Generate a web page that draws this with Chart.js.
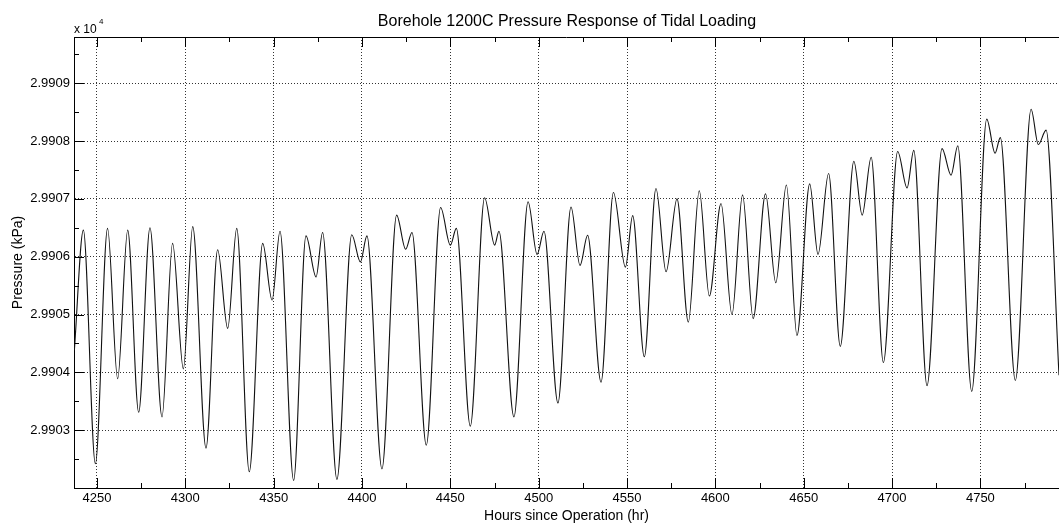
<!DOCTYPE html>
<html>
<head>
<meta charset="utf-8">
<script src="https://cdn.jsdelivr.net/npm/chart.js@4"></script>
<style>
  html, body { margin: 0; padding: 0; background: #fff; }
  #wrap { width: 1059px; height: 525px; position: relative; overflow: hidden; }
  canvas { display: block; }
</style>
</head>
<body>
<div id="wrap"><canvas id="c" width="1059" height="525"></canvas></div>
<script>
// ---- data (hours since operation, pressure in kPa) ----
const hours = [
  4237.2, 4242.3, 4249.1, 4256.0, 4261.7, 4267.4, 4273.6, 4280.0, 4286.8, 4292.8,
  4298.9, 4304.2, 4311.7, 4318.3, 4324.0, 4329.1, 4336.2, 4343.8, 4349.1, 4353.6,
  4361.3, 4368.3, 4374.0, 4377.7, 4385.8, 4394.2, 4399.1, 4402.8, 4411.3, 4419.6,
  4424.7, 4428.3, 4436.4, 4444.5, 4450.0, 4453.4, 4461.3, 4469.4, 4475.1, 4477.5,
  4486.0, 4494.0, 4499.1, 4503.0, 4510.9, 4518.3, 4523.4, 4527.7, 4535.3, 4542.3,
  4549.1, 4553.2, 4559.8, 4566.4, 4572.1, 4578.3, 4584.7, 4590.9, 4596.6, 4603.2,
  4609.4, 4615.4, 4621.4, 4628.4, 4634.2, 4640.2, 4646.2, 4653.4, 4658.1, 4664.1,
  4670.7, 4678.4, 4683.1, 4688.2, 4695.1, 4703.2, 4708.5, 4712.3, 4719.8, 4728.3,
  4733.4, 4737.2, 4745.1, 4753.6, 4758.3, 4761.3, 4769.8, 4778.7, 4782.8, 4787.2,
  4794.5
];
const pressure = [
  29904.38, 29906.46, 29902.42, 29906.49, 29903.89, 29906.46, 29903.31, 29906.50, 29903.23, 29906.23,
  29904.06, 29906.52, 29902.69, 29906.12, 29904.76, 29906.49, 29902.28, 29906.23, 29905.25, 29906.44,
  29902.13, 29906.36, 29905.65, 29906.42, 29902.15, 29906.38, 29905.91, 29906.36, 29902.33, 29906.72,
  29906.13, 29906.42, 29902.74, 29906.85, 29906.20, 29906.49, 29903.07, 29907.02, 29906.20, 29906.44,
  29903.23, 29906.95, 29906.04, 29906.44, 29903.47, 29906.86, 29905.85, 29906.37, 29903.83, 29907.11,
  29905.82, 29906.71, 29904.27, 29907.18, 29905.74, 29907.00, 29904.87, 29907.14, 29905.32, 29906.92,
  29905.00, 29907.07, 29904.93, 29907.09, 29905.55, 29907.24, 29904.64, 29907.26, 29906.04, 29907.44,
  29904.45, 29907.65, 29906.72, 29907.72, 29904.17, 29907.82, 29907.19, 29907.84, 29903.77, 29907.87,
  29907.41, 29907.92, 29903.67, 29908.38, 29907.79, 29908.06, 29903.86, 29908.55, 29907.94, 29908.19,
  29903.95
];
const xTicks = [4250, 4300, 4350, 4400, 4450, 4500, 4550, 4600, 4650, 4700, 4750];
const yTicks = [29903, 29904, 29905, 29906, 29907, 29908, 29909];
const titleText = 'Borehole 1200C Pressure Response of Tidal Loading';
const xLabel = 'Hours since Operation (hr)';
const yLabel = 'Pressure (kPa)';

const FONT = "'Liberation Sans', Arial, Helvetica, sans-serif";

const points = hours.map((h, i) => ({ x: h, y: pressure[i] }));

const decor = {
  id: 'decor',
  afterDraw(chart) {
    const { ctx, chartArea: a, scales: { x, y } } = chart;
    ctx.save();
    ctx.strokeStyle = '#000';
    ctx.lineWidth = 1;
    // top border
    ctx.beginPath();
    ctx.moveTo(a.left, Math.round(a.top) + 0.5);
    ctx.lineTo(a.right, Math.round(a.top) + 0.5);
    ctx.stroke();
    const MAJ = 10, MIN = 5;
    const xs = [];
    xTicks.forEach((v, i) => {
      xs.push([v, MAJ]);
      if (i < xTicks.length - 1) xs.push([(v + xTicks[i + 1]) / 2, MIN]);
    });
    const step = xTicks[1] - xTicks[0];
    xs.push([xTicks[xTicks.length - 1] + step / 2, MIN]);
    ctx.beginPath();
    xs.forEach(([v, len]) => {
      const px = Math.round(x.getPixelForValue(v)) + 0.5;
      if (px < a.left || px > a.right) return;
      ctx.moveTo(px, a.bottom); ctx.lineTo(px, a.bottom - len);
      ctx.moveTo(px, a.top); ctx.lineTo(px, a.top + len);
    });
    const ys = [];
    const ystep = yTicks[1] - yTicks[0];
    ys.push([yTicks[0] - ystep / 2, MIN]);
    yTicks.forEach((v) => { ys.push([v, MAJ]); ys.push([v + ystep / 2, MIN]); });
    ys.forEach(([v, len]) => {
      const py = Math.round(y.getPixelForValue(v)) + 0.5;
      if (py < a.top || py > a.bottom) return;
      ctx.moveTo(a.left, py); ctx.lineTo(a.left + len, py);
    });
    ctx.stroke();
    // title
    ctx.fillStyle = '#000';
    ctx.font = '16px ' + FONT;
    ctx.textAlign = 'center';
    ctx.textBaseline = 'middle';
    ctx.fillText(titleText, 567, 22);
    // exponent label
    ctx.textAlign = 'left';
    ctx.textBaseline = 'alphabetic';
    ctx.font = '12px ' + FONT;
    ctx.fillText('x 10', 74, 33);
    ctx.font = '8px ' + FONT;
    ctx.fillText('4', 99, 24);
    ctx.restore();
  }
};

new Chart(document.getElementById('c'), {
  type: 'line',
  data: {
    datasets: [{
      data: points,
      borderColor: '#111',
      borderWidth: 1.1,
      pointRadius: 0,
      fill: false,
      cubicInterpolationMode: 'monotone'
    }]
  },
  options: {
    responsive: false,
    animation: false,
    devicePixelRatio: 1,
    layout: { padding: { top: 37, left: 0, right: 0, bottom: 0 } },
    plugins: { legend: { display: false }, tooltip: { enabled: false }, title: { display: false } },
    scales: {
      x: {
        type: 'linear',
        min: 4237.0,
        max: 4794.5,
        afterBuildTicks: (s) => { s.ticks = xTicks.map(v => ({ value: v })); },
        afterFit: (s) => { s.height = 37; },
        ticks: {
          color: '#000',
          font: { family: FONT, size: 13 },
          padding: 3,
          maxRotation: 0,
          autoSkip: false,
          callback: (v) => String(v)
        },
        grid: { color: '#333', lineWidth: 1, drawTicks: false },
        border: { display: true, color: '#000', width: 1, dash: [1, 2] },
        title: {
          display: true, text: xLabel, color: '#000',
          font: { family: FONT, size: 14 }, padding: { top: 0, bottom: 0 }
        }
      },
      y: {
        type: 'linear',
        min: 29902.0,
        max: 29909.8,
        afterBuildTicks: (s) => { s.ticks = yTicks.map(v => ({ value: v })); },
        afterFit: (s) => { s.width = 74; },
        ticks: {
          color: '#000',
          font: { family: FONT, size: 13 },
          padding: 4,
          autoSkip: false,
          callback: (v) => (v / 10000).toFixed(4)
        },
        grid: { color: '#333', lineWidth: 1, drawTicks: false },
        border: { display: true, color: '#000', width: 1, dash: [1, 2] },
        title: {
          display: true, text: yLabel, color: '#000',
          font: { family: FONT, size: 14 }, padding: { top: 10, bottom: 0 }
        }
      }
    }
  },
  plugins: [decor]
});
</script>
</body>
</html>
